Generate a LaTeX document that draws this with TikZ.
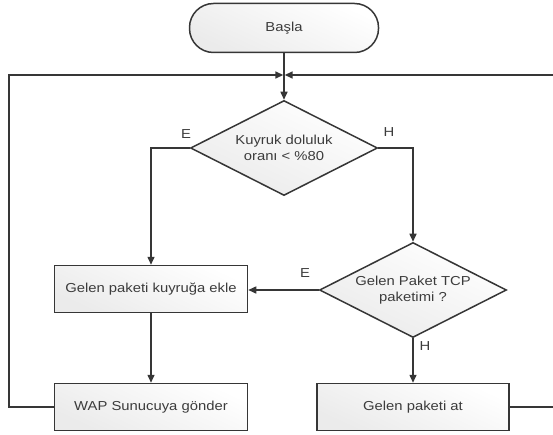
\documentclass[tikz,border=0pt]{standalone}
\usepackage{fontspec}
\setmainfont{Liberation Sans}[FakeStretch=1.14]
\usetikzlibrary{shapes.geometric,arrows.meta}
\definecolor{linec}{HTML}{363636}
\definecolor{textc}{HTML}{3C3C3C}
\tikzset{
  base/.style={draw=linec, line width=1.5pt, text=textc, inner sep=2pt,
    top color=white, bottom color=black!8, shading angle=-25,
    font=\fontsize{13}{15.5}\selectfont, align=center},
  terminal/.style={base, rectangle, rounded corners=24pt,
    minimum width=189pt, minimum height=49pt},
  procbox/.style={base, rectangle, minimum width=193pt, minimum height=47pt},
  decision/.style={base, diamond, aspect=2, minimum width=187pt, minimum height=95pt},
  conn/.style={draw=linec, line width=1.5pt},
  arr/.style={conn, -{Triangle[length=8pt,width=7pt]}},
  lbl/.style={text=textc, font=\fontsize{13}{15}\selectfont, inner sep=0pt}
}
\begin{document}
\begin{tikzpicture}[x=1pt, y=-1pt]
  \useasboundingbox (0,0) rectangle (553,435);
  \clip (0,0) rectangle (553,435);

  % flow nodes
  \node[terminal] (start) at (284,28) {Başla};
  \node[decision] (d1) at (284,148) {Kuyruk doluluk\\oranı < \%80};
  \node[procbox] (ekle) at (151,289) {Gelen paketi kuyruğa ekle};
  \node[decision] (d2) at (413,290) {Gelen Paket TCP\\paketimi ?};
  \node[procbox] (wap) at (151,407) {WAP Sunucuya gönder};
  \node[procbox, minimum width=192pt] (at) at (413,407) {Gelen paketi at};

  % merge point of the two return loops
  \coordinate (merge) at (284,75);
  \coordinate (lcorner) at (9,75);
  \coordinate (rcorner) at (570,75);

  % main flow
  \draw[arr] (start) -- (d1);
  \draw[arr] (d1.west) -| (ekle.north);
  \draw[arr] (d1.east) -| (d2.north);
  \draw[arr] (d2.west) -- (d2.west -| ekle.east);
  \draw[arr] (d2.south) -- (at.north);
  \draw[arr] (ekle.south) -- (wap.north);

  % return loops back to the decision
  \draw[arr, shorten >=0.7pt] (wap.west) -| (lcorner) -- (merge);
  \draw[arr, shorten >=0.7pt] (at.east) -| (rcorner) -- (merge);

  % branch labels
  \node[lbl] (e1) at (186,134) {E};
  \node[lbl] (h1) at (389,132) {H};
  \node[lbl] (e2) at (305,273) {E};
  \node[lbl] (h2) at (425,346) {H};
\end{tikzpicture}
\end{document}
